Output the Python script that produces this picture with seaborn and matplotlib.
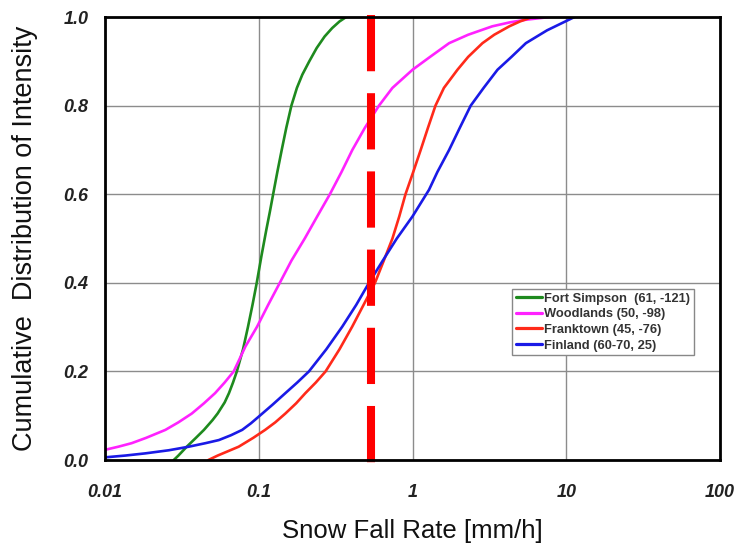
import numpy as np
import pandas as pd
import matplotlib
matplotlib.use("Agg")
import matplotlib.pyplot as plt
from matplotlib.ticker import FixedLocator, FixedFormatter, LogLocator, NullFormatter, MultipleLocator
import seaborn as sns

# Cumulative distributions of snowfall intensity (rate in mm/h, cumulative fraction)
fort_simpson_rate = [0.028, 0.030, 0.034, 0.039, 0.044, 0.050, 0.054, 0.060, 0.064, 0.068,
                     0.072, 0.079, 0.085, 0.091, 0.097, 0.104, 0.112, 0.118, 0.124, 0.132,
                     0.141, 0.151, 0.163, 0.177, 0.192, 0.213, 0.238, 0.268, 0.300, 0.335, 0.370]
fort_simpson_cdf = [0.0, 0.01, 0.03, 0.05, 0.068, 0.09, 0.105, 0.13, 0.151, 0.175,
                    0.2, 0.25, 0.3, 0.35, 0.4, 0.46, 0.52, 0.56, 0.6, 0.65,
                    0.7, 0.75, 0.8, 0.84, 0.87, 0.9, 0.93, 0.956, 0.975, 0.99, 1.0]

woodlands_rate = [0.01, 0.0122, 0.0149, 0.0185, 0.0247, 0.030, 0.0367, 0.044, 0.052, 0.060,
                  0.0687, 0.0818, 0.0975, 0.115, 0.137, 0.163, 0.199, 0.24, 0.29, 0.345,
                  0.406, 0.49, 0.605, 0.74, 1.0, 1.3, 1.73, 2.3, 3.3, 4.3, 5.5, 7.8]
woodlands_cdf = [0.023, 0.03, 0.038, 0.05, 0.068, 0.085, 0.105, 0.128, 0.151, 0.175,
                 0.2, 0.256, 0.301, 0.35, 0.4, 0.45, 0.5, 0.55, 0.6, 0.65,
                 0.7, 0.75, 0.8, 0.84, 0.881, 0.91, 0.941, 0.96, 0.979, 0.988, 0.994, 1.0]

franktown_rate = [0.047, 0.054, 0.074, 0.092, 0.11, 0.128, 0.149, 0.175, 0.201, 0.235,
                  0.272, 0.335, 0.405, 0.48, 0.57, 0.65, 0.74, 0.82, 0.9, 1.01,
                  1.13, 1.26, 1.41, 1.6, 1.96, 2.3, 2.85, 3.4, 4.26, 5.0, 6.0]
franktown_cdf = [0.0, 0.01, 0.03, 0.05, 0.068, 0.085, 0.105, 0.128, 0.151, 0.175,
                 0.2, 0.25, 0.301, 0.35, 0.4, 0.45, 0.5, 0.55, 0.6, 0.65,
                 0.7, 0.75, 0.8, 0.84, 0.881, 0.91, 0.941, 0.96, 0.979, 0.99, 1.0]

finland_rate = [0.01, 0.0135, 0.0183, 0.026, 0.035, 0.045, 0.055, 0.066, 0.078, 0.089,
                0.1, 0.123, 0.149, 0.178, 0.212, 0.275, 0.349, 0.43, 0.521, 0.64,
                0.79, 1.0, 1.28, 1.45, 1.73, 2.03, 2.39, 2.9, 3.57, 4.4, 5.46, 7.5, 11.3]
finland_cdf = [0.006, 0.01, 0.015, 0.022, 0.03, 0.038, 0.045, 0.056, 0.068, 0.083,
               0.098, 0.125, 0.151, 0.175, 0.2, 0.25, 0.301, 0.35, 0.4, 0.45,
               0.5, 0.55, 0.61, 0.65, 0.7, 0.75, 0.8, 0.84, 0.881, 0.91, 0.941, 0.97, 1.0]

site_labels = ["Fort Simpson  (61, -121)", "Woodlands (50, -98)",
               "Franktown (45, -76)", "Finland (60-70, 25)"]
site_colors = ["#1e8a1e", "#ff22ff", "#ff2a1a", "#1a1ae6"]

threshold_rate = 0.54

x_ticks = [0.01, 0.1, 1, 10, 100]
x_tick_labels = ["0.01", "0.1", "1", "10", "100"]
y_ticks = [0.0, 0.2, 0.4, 0.6, 0.8, 1.0]
y_tick_labels = ["0.0", "0.2", "0.4", "0.6", "0.8", "1.0"]

frames = []
for lab, xs, ys in zip(site_labels,
                       [fort_simpson_rate, woodlands_rate, franktown_rate, finland_rate],
                       [fort_simpson_cdf, woodlands_cdf, franktown_cdf, finland_cdf]):
    frames.append(pd.DataFrame({"rate": xs, "cdf": ys, "site": lab}))
df = pd.concat(frames, ignore_index=True)

sns.set_theme(style="white")
plt.rcParams["font.family"] = ["Liberation Sans", "DejaVu Sans"]
plt.rcParams["lines.scale_dashes"] = False

fig = plt.figure(figsize=(7.37, 5.49), dpi=100)
ax = fig.add_axes([0.1425, 0.1621, 0.8345, 0.8069])

sns.lineplot(data=df, x="rate", y="cdf", hue="site", hue_order=site_labels,
             palette=dict(zip(site_labels, site_colors)), estimator=None, sort=False,
             linewidth=1.9, ax=ax, zorder=3)

ax.set_xscale("log")
ax.set_xlim(0.01, 100)
ax.set_ylim(0, 1.0)

# threshold line
ax.plot([threshold_rate, threshold_rate], [1.005, -0.02], color="#ff0000",
        linewidth=5.8, dashes=(40.5, 15.8), clip_on=False, zorder=4,
        solid_capstyle="butt", dash_capstyle="butt")

ax.xaxis.set_major_locator(FixedLocator(x_ticks))
ax.xaxis.set_major_formatter(FixedFormatter(x_tick_labels))
ax.xaxis.set_minor_locator(LogLocator(base=10, subs=np.arange(2, 10)))
ax.xaxis.set_minor_formatter(NullFormatter())
ax.yaxis.set_major_locator(FixedLocator(y_ticks))
ax.yaxis.set_major_formatter(FixedFormatter(y_tick_labels))
ax.yaxis.set_minor_locator(MultipleLocator(0.1))

ax.grid(True, which="major", color="#8c8c8c", linewidth=1.0, zorder=0)
ax.set_axisbelow(True)

for s in ax.spines.values():
    s.set_visible(True)
    s.set_color("black")
    s.set_linewidth(2.0)
    s.set_zorder(5)

ax.tick_params(axis="both", which="both", direction="in", color="black")
ax.tick_params(axis="x", which="major", length=0, pad=17)
ax.tick_params(axis="x", which="minor", length=4, width=1.5)
ax.tick_params(axis="y", which="major", length=5, width=1.8, pad=12)
ax.tick_params(axis="y", which="minor", length=5, width=1.8)

for lab in ax.get_xticklabels() + ax.get_yticklabels():
    lab.set_fontsize(13)
    lab.set_fontweight("bold")
    lab.set_fontstyle("italic")
    lab.set_color("#222222")

ax.set_xlabel("Snow Fall Rate [mm/h]", fontsize=18.5, color="#111111", labelpad=13)
ax.set_ylabel("Cumulative  Distribution of Intensity", fontsize=19.5, color="#111111", labelpad=18)

handles, labels = ax.get_legend_handles_labels()
leg = ax.legend(handles, labels, loc="upper left",
                bbox_to_anchor=(512 / 737, 1 - 289 / 549), bbox_transform=fig.transFigure,
                borderaxespad=0, frameon=True, fancybox=False, framealpha=1,
                edgecolor="#888888", prop={"family": "Liberation Sans", "weight": "bold", "size": 9.3},
                handlelength=2.0, handletextpad=0.15, labelspacing=0.27, borderpad=0.3)
leg.get_frame().set_linewidth(1.0)
for t in leg.get_texts():
    t.set_color("#333333")
for ln in leg.get_lines():
    ln.set_linewidth(2.3)
leg.set_zorder(6)

fig.savefig("out.png", dpi=100)
